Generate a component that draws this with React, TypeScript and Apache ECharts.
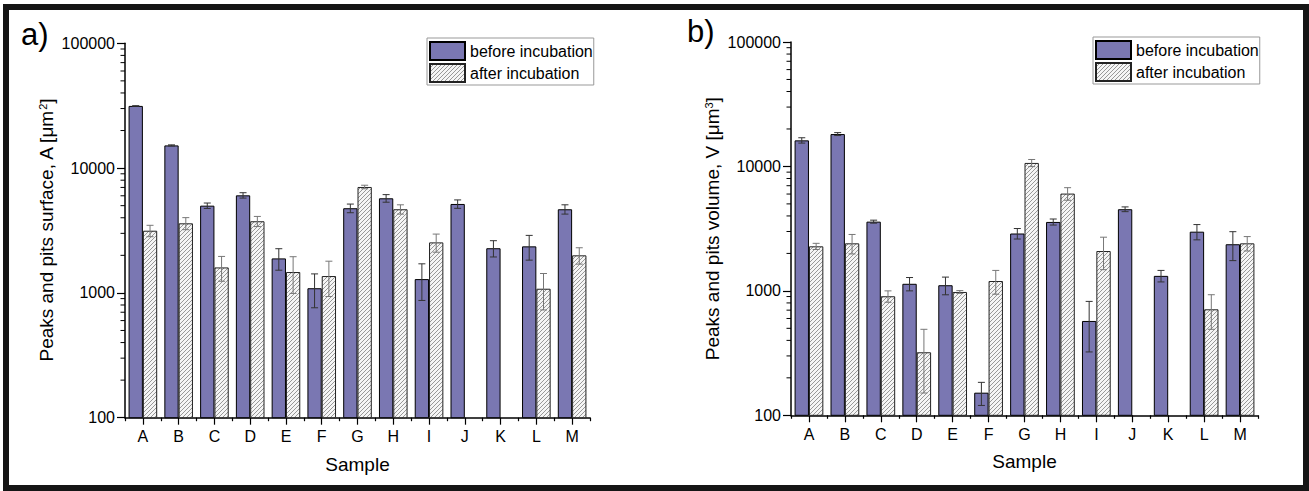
import React, { useEffect, useRef } from 'react';
import * as echarts from 'echarts';

const categories = ['A', 'B', 'C', 'D', 'E', 'F', 'G', 'H', 'I', 'J', 'K', 'L', 'M'];

// Panel a) peaks and pits surface A [µm²]
const surfaceBefore = [31500, 15200, 5000, 6050, 1890, 1090, 4770, 5730, 1290, 5160, 2280, 2360, 4680];
const surfaceBeforeErr = [100, 150, 250, 300, 370, 330, 380, 400, 420, 400, 340, 530, 400];
const surfaceAfter = [3150, 3610, 1600, 3750, 1470, 1365, 7060, 4680, 2540, null, null, 1080, 2000];
const surfaceAfterErr = [330, 400, 360, 350, 480, 430, 230, 400, 420, null, null, 350, 300];

// Panel b) peaks and pits volume V [µm³]
const volumeBefore = [16200, 18200, 3600, 1140, 1110, 152, 2890, 3580, 573, 4530, 1320, 2990, 2370];
const volumeBeforeErr = [800, 500, 100, 140, 180, 32, 280, 200, 250, 200, 140, 420, 620];
const volumeAfter = [2280, 2410, 905, 321, 980, 1200, 10670, 6050, 2090, null, null, 711, 2410];
const volumeAfterErr = [130, 430, 95, 170, 25, 260, 700, 700, 610, null, null, 220, 320];

const decades = [100, 1000, 10000];
const minorMultipliers = [2, 3, 4, 5, 6, 7, 8, 9];

const FONT = '"Liberation Sans", Arial, sans-serif';
const PURPLE = '#7a77b2';
const BAR_RATIO = 0.4;

function makeHatch() {
  const c = document.createElement('canvas');
  c.width = 4;
  c.height = 4;
  const ctx = c.getContext('2d')!;
  ctx.fillStyle = '#f5f5f5';
  ctx.fillRect(0, 0, 4, 4);
  ctx.strokeStyle = '#808080';
  ctx.lineWidth = 0.8;
  ctx.beginPath();
  ctx.moveTo(0, 4); ctx.lineTo(4, 0);
  ctx.moveTo(-1, 1); ctx.lineTo(1, -1);
  ctx.moveTo(3, 5); ctx.lineTo(5, 3);
  ctx.stroke();
  return c;
}

const errRender = (sign: number, color: string) => (params: any, api: any) => {
  const ci = api.value(0);
  const v = api.value(1);
  const e = api.value(2);
  const band = api.size([1, 0], [ci, v])[0];
  const w = band * BAR_RATIO;
  const x = api.coord([ci, v])[0] + (sign * w) / 2;
  const y1 = api.coord([ci, v + e])[1];
  const y2 = api.coord([ci, v - e])[1];
  const cap = 3.5;
  const style = { stroke: color, lineWidth: 1 };
  return {
    type: 'group',
    children: [
      { type: 'line', shape: { x1: x, y1, x2: x, y2 }, style },
      { type: 'line', shape: { x1: x - cap, y1, x2: x + cap, y2: y1 }, style },
      { type: 'line', shape: { x1: x - cap, y1: y2, x2: x + cap, y2 }, style },
    ],
  };
};

function buildPanel(
  g: number,
  rect: { left: number; top: number; width: number; height: number },
  yName: string,
  before: (number | null)[],
  beforeErr: (number | null)[],
  after: (number | null)[],
  afterErr: (number | null)[],
  hatch: any,
  legendPos: { left: number; top: number }
) {
  const grid = { ...rect, containLabel: false };
  const xMain = 2 * g;
  const xMinor = 2 * g + 1;
  const xAxes = [
    {
      type: 'category',
      gridIndex: g,
      data: categories,
      position: 'bottom',
      axisLine: { show: true, onZero: false, lineStyle: { color: '#000', width: 1.5 } },
      axisTick: { show: true, alignWithLabel: true, length: 7, lineStyle: { color: '#000', width: 1.2 } },
      axisLabel: { fontSize: 16, color: '#000', margin: 11, interval: 0, fontFamily: FONT },
      name: 'Sample',
      nameLocation: 'middle',
      nameGap: 37,
      nameTextStyle: { fontSize: 19, color: '#000', fontFamily: FONT },
      splitLine: { show: false },
    },
    {
      type: 'category',
      gridIndex: g,
      data: categories,
      position: 'bottom',
      axisLine: { show: false, onZero: false },
      axisTick: { show: true, length: 3.5, lineStyle: { color: '#000', width: 1.2 } },
      axisLabel: { show: false },
      splitLine: { show: false },
    },
  ];
  const yAxis = {
    type: 'log',
    gridIndex: g,
    logBase: 10,
    min: 100,
    max: 100000,
    axisLine: { show: true, lineStyle: { color: '#000', width: 1.5 } },
    axisTick: { show: true, inside: false, length: 8, lineStyle: { color: '#000', width: 1.2 } },
    axisLabel: {
      fontSize: 16,
      color: '#000',
      margin: 10,
      fontFamily: FONT,
      formatter: (v: number) => String(Math.round(v)),
    },
    splitLine: { show: false },
    name: yName,
    nameLocation: 'middle',
    nameGap: 69,
    nameTextStyle: {
      fontSize: 19,
      color: '#000',
      fontFamily: FONT,
      rich: {
        sup: { fontSize: 11, color: '#000', fontFamily: FONT, verticalAlign: 'top', lineHeight: 11 },
      },
    },
  };

  const minorData: number[][] = [];
  decades.forEach((d) => minorMultipliers.forEach((m) => minorData.push([0, d * m])));

  const errData = (vals: (number | null)[], errs: (number | null)[]) =>
    vals
      .map((v, i) => (v == null || errs[i] == null ? null : [i, v, errs[i] as number]))
      .filter((d) => d !== null);

  const series: any[] = [
    {
      name: 'before incubation',
      type: 'bar',
      xAxisIndex: xMain,
      yAxisIndex: g,
      data: before,
      barWidth: '40%',
      barGap: '0%',
      itemStyle: { color: PURPLE, borderColor: '#000', borderWidth: 1 },
      z: 2,
    },
    {
      name: 'after incubation',
      type: 'bar',
      xAxisIndex: xMain,
      yAxisIndex: g,
      data: after,
      barWidth: '40%',
      barGap: '0%',
      itemStyle: { color: { image: hatch, repeat: 'repeat' }, borderColor: '#222', borderWidth: 1 },
      z: 2,
    },
    {
      name: 'err-before-' + g,
      type: 'custom',
      xAxisIndex: xMain,
      yAxisIndex: g,
      data: errData(before, beforeErr),
      encode: { x: 0, y: 1 },
      renderItem: errRender(-1, '#333'),
      z: 5,
      silent: true,
    },
    {
      name: 'err-after-' + g,
      type: 'custom',
      xAxisIndex: xMain,
      yAxisIndex: g,
      data: errData(after, afterErr),
      encode: { x: 0, y: 1 },
      renderItem: errRender(1, '#777'),
      z: 5,
      silent: true,
    },
    {
      name: 'minor-' + g,
      type: 'custom',
      xAxisIndex: xMinor,
      yAxisIndex: g,
      data: minorData,
      encode: { x: 0, y: 1 },
      clip: false,
      silent: true,
      renderItem: (params: any, api: any) => {
        const y = api.coord([0, api.value(1)])[1];
        const x0 = params.coordSys.x;
        return {
          type: 'line',
          shape: { x1: x0 - 4.5, y1: y, x2: x0, y2: y },
          style: { stroke: '#000', lineWidth: 1 },
        };
      },
    },
  ];

  const legend = {
    orient: 'vertical',
    left: legendPos.left,
    top: legendPos.top,
    padding: [3, 1, 2, 2],
    itemGap: 2,
    itemWidth: 35,
    itemHeight: 18,
    borderColor: '#999',
    borderWidth: 1,
    backgroundColor: '#fff',
    selectedMode: false,
    textStyle: { fontSize: 16, color: '#000', fontFamily: FONT },
    data: [
      { name: 'before incubation', icon: 'rect' },
      { name: 'after incubation', icon: 'rect' },
    ],
  };

  return { grid, xAxes, yAxis, series, legend };
}

export default function App() {
  const ref = useRef<HTMLDivElement>(null);

  useEffect(() => {
    if (!ref.current) return;
    const chart = echarts.init(ref.current, undefined, { renderer: 'svg' });
    const hatch = makeHatch();

    const pa = buildPanel(
      0,
      { left: 125, top: 43.3, width: 465, height: 374.4 },
      'Peaks and pits surface, A [μm{sup|2}]',
      surfaceBefore,
      surfaceBeforeErr,
      surfaceAfter,
      surfaceAfterErr,
      hatch,
      { left: 427, top: 38 }
    );
    const pb = buildPanel(
      1,
      { left: 791, top: 42, width: 467, height: 373.3 },
      'Peaks and pits volume, V [μm{sup|3}]',
      volumeBefore,
      volumeBeforeErr,
      volumeAfter,
      volumeAfterErr,
      hatch,
      { left: 1093, top: 37 }
    );

    chart.setOption({
      animation: false,
      backgroundColor: '#fff',
      textStyle: { fontFamily: FONT },
      grid: [pa.grid, pb.grid],
      xAxis: [...pa.xAxes, ...pb.xAxes],
      yAxis: [pa.yAxis, pb.yAxis],
      legend: [pa.legend, pb.legend],
      series: [...pa.series, ...pb.series],
      graphic: [
        {
          type: 'rect',
          silent: true,
          shape: { x: 6, y: 7, width: 1300, height: 481 },
          style: { fill: 'none', stroke: '#151515', lineWidth: 6 },
          z: 100,
        },
        {
          type: 'text',
          left: 21,
          top: 19,
          style: { text: 'a)', fontSize: 31, fill: '#000', fontFamily: FONT },
        },
        {
          type: 'text',
          left: 687,
          top: 16,
          style: { text: 'b)', fontSize: 31, fill: '#000', fontFamily: FONT },
        },
      ],
    });

    return () => {
      chart.dispose();
    };
  }, []);

  return (
    <div
      ref={ref}
      style={{ position: 'absolute', left: 0, top: 0, width: 1309, height: 491 }}
    />
  );
}
